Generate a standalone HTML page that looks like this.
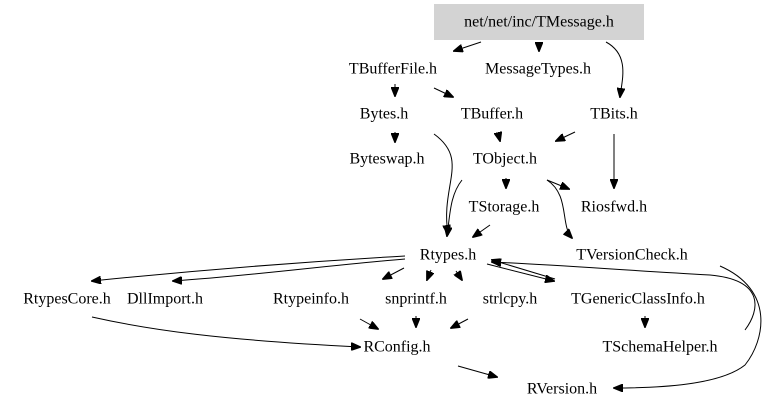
<!DOCTYPE html>
<html><head><meta charset="utf-8"><style>
html,body{margin:0;padding:0;background:#fff;}
svg{display:block;}
text{font-family:"Liberation Serif",serif;font-size:16px;fill:#000;text-anchor:middle;dominant-baseline:central;}
path{fill:none;stroke:#000;stroke-width:1;}
</style></head><body>
<svg width="768" height="414" viewBox="0 0 768 414" xmlns="http://www.w3.org/2000/svg">
<defs><marker id="a" markerWidth="10" markerHeight="8" refX="9" refY="4" orient="auto" markerUnits="userSpaceOnUse"><path d="M0,0 L10,4 L0,8 Z" style="fill:#000;stroke:#000"/></marker></defs>
<rect x="434" y="4" width="210" height="36" fill="#d3d3d3"/>
<text x="539" y="22">net/net/inc/TMessage.h</text>
<text x="393" y="69">TBufferFile.h</text>
<text x="538" y="69">MessageTypes.h</text>
<text x="384" y="114">Bytes.h</text>
<text x="492" y="114">TBuffer.h</text>
<text x="614" y="114">TBits.h</text>
<text x="387" y="159">Byteswap.h</text>
<text x="505" y="159">TObject.h</text>
<text x="504" y="207">TStorage.h</text>
<text x="614" y="207">Riosfwd.h</text>
<text x="448" y="255">Rtypes.h</text>
<text x="632" y="255">TVersionCheck.h</text>
<text x="67" y="299">RtypesCore.h</text>
<text x="165" y="299">DllImport.h</text>
<text x="311" y="299">Rtypeinfo.h</text>
<text x="416" y="299">snprintf.h</text>
<text x="510" y="299">strlcpy.h</text>
<text x="638" y="299">TGenericClassInfo.h</text>
<text x="397" y="347">RConfig.h</text>
<text x="660" y="347">TSchemaHelper.h</text>
<text x="562" y="389">RVersion.h</text>
<g marker-end="url(#a)">
<path d="M481,42 L454,51"/>
<path d="M539,42 L539,51"/>
<path d="M606,42 C630,55 622,80 620,97"/>
<path d="M395,84 L395,96"/>
<path d="M434,88 L453,97"/>
<path d="M395,132 L395,142"/>
<path d="M498,133 L500,141"/>
<path d="M575,132 L556,141"/>
<path d="M614,134 L614,188"/>
<path d="M434,134 C470,160 440,185 448,234"/>
<path d="M462,180 C450,195 450,215 447,236"/>
<path d="M506,178 L506,188"/>
<path d="M547,180 L569,189"/>
<path d="M547,180 C570,195 560,225 572,238"/>
<path d="M490,225 L473,237"/>
<path d="M405,256 C300,262 200,270 92,281"/>
<path d="M405,259 C330,265 260,275 173,281"/>
<path d="M404,268 L383,279"/>
<path d="M431,270 L427,280"/>
<path d="M456,271 L462,280"/>
<path d="M487,264 L554,281"/>
<path d="M555,279 L492,260"/>
<path d="M745,330 C760,310 765,280 710,275 C620,270 560,265 492,262"/>
<path d="M720,266 C775,290 765,340 745,365 C720,385 660,388 614,388"/>
<path d="M92,317 C150,330 220,340 360,347"/>
<path d="M360,319 L378,329"/>
<path d="M416,316 L416,327"/>
<path d="M468,319 L451,328"/>
<path d="M645,316 L645,327"/>
<path d="M458,366 L497,377"/>
</g>
</svg>
</body></html>
